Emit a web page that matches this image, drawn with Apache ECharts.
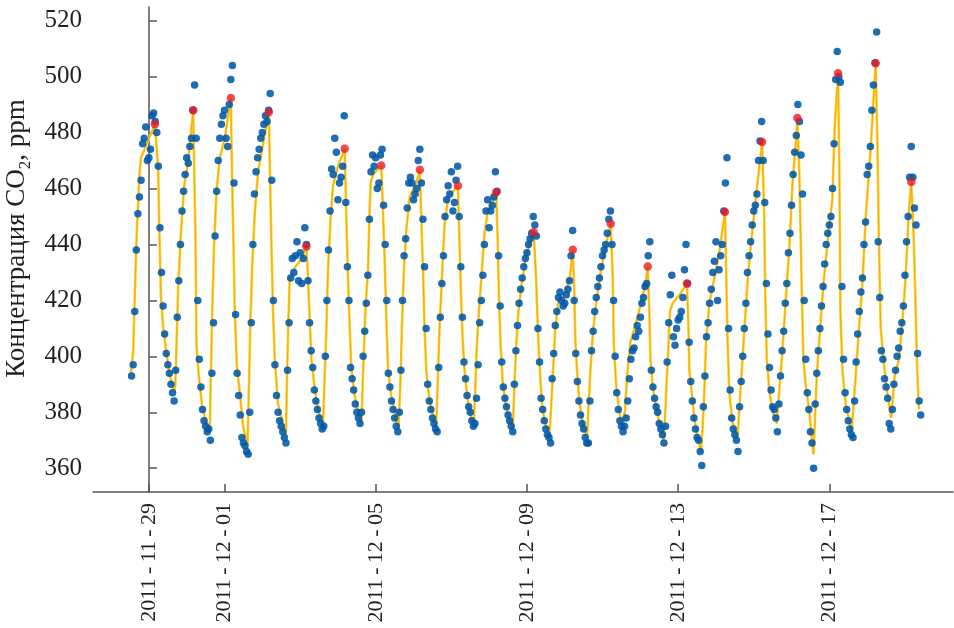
<!DOCTYPE html>
<html><head><meta charset="utf-8">
<script src="https://cdn.jsdelivr.net/npm/echarts@6/dist/echarts.min.js"></script>
<style>html,body{margin:0;padding:0;background:#fff}#c{width:954px;height:628px}</style>
</head><body><div id="c"></div>
<script>
// x values are hours since 2011-11-29 00:00
const ORIGIN = '2011-11-29T00:00:00Z';
const startHour = -11; // first hourly sample: 2011-11-28 13:00

// hourly CO2 concentration, ppm (one row per calendar day)
const co2_1128 = [393,397,416,438,451,457,463,476,478,482,470];
const co2_1129 = [471,474,486,487,484,480,468,446,430,418,408,401,397,394,390,387,384,395,414,427,440,452,459,465];
const co2_1130 = [471,469,475,478,488,497,478,420,399,389,381,377,375,373,374,370,394,412,443,459,470,478,483,486];
const co2_1201 = [488,478,475,490,499,504,462,415,394,386,379,371,369,368,366,365,380,412,440,458,466,471,474,478];
const co2_1202 = [480,483,486,484,488,494,463,420,397,386,380,377,375,373,371,369,395,412,428,435,430,436,441,427];
const co2_1203 = [437,426,435,446,440,427,412,402,396,388,384,381,378,376,374,375,400,420,438,452,467,465,478,473];
const co2_1204 = [456,462,464,468,486,455,432,420,396,392,388,383,380,378,376,380,400,409,419,429,449,466,472,468];
const co2_1205 = [471,460,462,472,474,454,440,420,394,389,384,381,378,375,373,380,395,420,436,442,453,462,464,462];
const co2_1206 = [456,458,460,470,474,462,449,432,410,390,384,381,378,376,374,373,396,414,426,436,450,456,461,458];
const co2_1207 = [466,452,455,463,468,450,432,414,398,392,386,382,380,377,375,376,385,397,412,420,429,440,452,456];
const co2_1208 = [446,452,454,457,466,459,436,418,398,389,385,382,379,377,375,373,390,402,411,419,424,428,432,435];
const co2_1209 = [437,440,442,444,450,447,443,410,398,385,381,377,374,372,371,369,392,401,411,416,421,423,420,418];
const co2_1210 = [419,422,424,427,436,445,420,401,391,384,379,376,374,371,369,369,384,402,409,416,421,425,428,432];
const co2_1211 = [436,438,440,444,449,452,440,420,400,387,381,377,375,373,375,378,384,392,399,402,403,407,411,409];
const co2_1212 = [414,419,421,425,426,436,441,395,389,385,382,380,376,374,372,369,375,398,412,422,429,407,404,410];
const co2_1213 = [413,414,416,421,431,440,426,405,391,384,378,374,371,370,366,361,382,393,407,412,419,424,430,434];
const co2_1214 = [441,420,431,436,440,452,462,471,410,388,378,374,372,370,366,382,391,400,410,419,430,436,441,447];
const co2_1215 = [452,454,458,470,477,484,470,455,426,408,396,388,382,381,378,373,383,393,402,409,419,426,437,444];
const co2_1216 = [454,465,473,479,490,484,472,458,420,399,387,381,373,369,360,383,394,402,410,418,425,433,440,444];
const co2_1217 = [447,450,460,476,499,509,500,498,425,399,387,381,377,374,372,371,384,398,408,416,423,428,440,448];
const co2_1218 = [465,468,475,488,497,505,516,441,421,402,399,392,389,385,376,374,381,390,395,400,403,409,412,418];
const co2_1219 = [429,441,450,464,475,464,453,447,401,384,379];

// smoothed curve knots [hour, ppm] (daily maxima are listed in `peaks`)
const fitKnots = [
 [-11.4,394],[-10,402],[-8,440],[-6,465],[-5,471],
 [5.9,467],[6.6,446],[7.6,422],[9.1,410],[11.2,401],[13.3,393],[16.1,387],
 [16.8,390],[17.5,404],[18.6,425],[20.3,444],[22.4,461],[25,470],
 [29.6,440],[30.2,404],[31.7,393],[33.8,382],[36.6,376],[38.7,374],
 [39.3,393],[40.2,416],[41.4,440],[42.9,459],[45,471],[48.2,478],
 [52.8,464],[53.7,440],[54.5,416],[55.8,397],[57.7,387],[59.8,375],[62.6,368],
 [63.4,387],[64.3,410],[65.5,431],[67.2,451],[69.3,466],[72.5,476],
 [76.9,464],[77.8,440],[78.8,416],[79.9,399],[82,383],[85,376],[87,372],
 [87.6,390],[88.4,410],[89.4,428],[93,432],[97,435],
 [101,428],[102.1,413],[103.2,399],[105.3,388],[107.4,381],[110.5,375],
 [111.6,393],[112.7,410],[113.7,431],[115.4,450],[116.9,461],[120,468],
 [125.3,450],[126.4,428],[127.5,410],[128.5,396],[130.6,386],[133.8,378],[134.9,376],
 [135.9,393],[137.4,416],[139.1,431],[140.1,452],[140.8,462],[142.3,465],
 [148.6,452],[149.7,434],[150.7,414],[151.8,395],[153.9,386],[157.1,377],[158.5,374],
 [159.8,393],[160.6,410],[161.9,431],[163.4,445],[165.5,457],[169.7,462],
 [172.9,450],[174,431],[175,410],[176.1,395],[178.2,384],[181.4,377],[182.4,375],
 [183.5,393],[184.5,410],[186,428],[187.7,447],[189.8,456],[193,459],
 [197.2,440],[198.3,419],[199.3,405],[200.4,395],[202.5,384],[204.6,378],[206.3,376],
 [207.1,387],[208.2,404],[209.9,419],[211.4,431],[213.1,444],[215.2,452],[218.3,456],
 [221.5,440],[222.2,422],[223.2,405],[224.7,390],[226.8,382],[229.6,376],[231,374],
 [232.1,390],[233.1,403],[234.6,416],[236.7,426],[239.5,436],[242.2,441],
 [245.8,428],[246.9,410],[248,397],[249.4,384],[251.1,377],[254.3,372],
 [255.3,381],[256.4,393],[257.9,409],[260,420],[263.8,422],[267,427],
 [270.1,422],[270.8,405],[271.8,395],[273.3,384],[275.4,376],[278.2,371],
 [279,381],[280.3,395],[281.8,408],[283.9,419],[287,431],[290.2,440],
 [294.5,428],[295.1,405],[296.6,390],[298.7,380],[300.8,374],
 [302.3,381],[303.6,393],[305.7,405],[309.3,412],[312.9,420],[315.6,427],
 [317.7,416],[318.4,399],[319.9,389],[322,382],[324.1,376],[326.8,370],
 [327.9,381],[329.4,399],[330.8,416],[332.5,419],[336.8,422],
 [342.5,411],[343.1,395],[344.6,387],[346.3,378],[348.4,371],[350.5,366],
 [351.6,375],[352.6,387],[353.7,405],[355.8,419],[359,428],[362.1,437],
 [366.6,428],[367.4,405],[368.5,387],[370.6,376],[373.7,371],
 [374.8,381],[376.3,394],[378,409],[380.5,430],[383.3,446],[386.4,462],
 [390.6,452],[391.3,422],[392.3,399],[394,387],[396.3,380],[398.6,376],
 [400.1,387],[402.2,402],[404.3,420],[406.5,438],[408.6,462],[410.7,476],
 [413,464],[414.3,428],[415.5,399],[417,390],[419.1,381],[421.9,365],
 [422.7,375],[424,393],[426.1,410],[428.6,428],[431.8,446],[433.9,456],[435.4,482],
 [438.4,464],[439,416],[440.3,395],[442.4,383],[446,373],
 [447.2,381],[448.7,393],[450.8,410],[453,426],[455.1,450],[458.2,474],
 [462.5,476],[463.5,440],[464.6,410],[466.7,397],[468.8,387],[471.3,378],
 [473.5,393],[476.2,399],[478.3,412],[480.4,428],[482.5,452],
 [485.7,440],[486.8,416],[487.8,395],[488.9,381]
];

// daily maxima of the smoothed curve [hour, ppm]
const peaks = [
 [3.8,483],[28.1,488],[52,492.4],[76.1,487.3],[100,439.3],[124.3,474.2],[147.5,468.2],
 [172,466.7],[196.2,461],[220.5,458.7],[244.3,444.4],[269.1,438.1],[293.2,447.4],
 [316.7,432.1],[341.6,426],[365.7,451.6],[389.3,476.6],[411.7,485.2],[437.5,501.2],
 [461.4,504.8],[484,462.3]
];

const tickDates = ['2011-11-29','2011-12-01','2011-12-05','2011-12-09','2011-12-13','2011-12-17'];
const yTicks = [360,380,400,420,440,460,480,500,520];

const hourly = [].concat(co2_1128,co2_1129,co2_1130,co2_1201,co2_1202,co2_1203,co2_1204,
  co2_1205,co2_1206,co2_1207,co2_1208,co2_1209,co2_1210,co2_1211,co2_1212,co2_1213,
  co2_1214,co2_1215,co2_1216,co2_1217,co2_1218,co2_1219);
const blueData = hourly.map((v, i) => [startHour + i, v]);
const origin = Date.parse(ORIGIN);
const tickHours = tickDates.map(d => (Date.parse(d + 'T00:00:00Z') - origin) / 3600000);
const lineData = fitKnots.concat(peaks).sort((a, b) => a[0] - b[0]);

const FONT = '"Liberation Serif","Times New Roman",serif';
const AX = '#555555';
const TXT = '#231f20';

const chart = echarts.init(document.getElementById('c'), null, {renderer: 'canvas'});
chart.setOption({
  animation: false,
  backgroundColor: '#ffffff',
  grid: {left: 93, right: 1, top: 7, bottom: 136, containLabel: false, outerBoundsMode: 'none'},
  xAxis: {
    type: 'value', min: -35.5, max: 510.5,
    axisLine: {show: true, lineStyle: {color: AX, width: 1.5}},
    axisTick: {show: true, inside: true, length: 8, lineStyle: {color: AX, width: 1.5}, customValues: tickHours},
    axisLabel: {
      customValues: tickHours, rotate: 90, margin: 11, fontSize: 22, fontFamily: FONT, color: TXT,
      formatter: v => {
        const i = tickHours.findIndex(h => Math.abs(h - v) < 1e-6);
        return i >= 0 ? tickDates[i].replace(/-/g, '\u2009-\u2009') : '';
      }
    },
    splitLine: {show: false}
  },
  yAxis: {
    type: 'value', min: 351.5, max: 524.9,
    axisLine: {show: true, lineStyle: {color: AX, width: 1.5}},
    axisTick: {show: true, inside: true, length: 8, lineStyle: {color: AX, width: 1.5}, customValues: yTicks},
    axisLabel: {customValues: yTicks, margin: 11, fontSize: 25, fontFamily: FONT, color: TXT},
    splitLine: {show: false},
    name: 'Концентрация CO{sub|2}, ppm',
    nameLocation: 'middle', nameRotate: 90, nameGap: 50,
    nameTextStyle: {
      fontSize: 27, fontFamily: FONT, color: TXT, lineHeight: 34, padding: [0, 0, 0, 22],
      rich: {sub: {fontSize: 17, fontFamily: FONT, color: TXT, lineHeight: 17, verticalAlign: 'bottom'}}
    }
  },
  series: [
    {type: 'line', data: lineData, symbol: 'none', smooth: false,
     lineStyle: {color: '#ffd21a', width: 2.6}, z: 2, silent: true},
    {type: 'line', data: lineData, symbol: 'none', smooth: false,
     lineStyle: {color: '#f3a21c', width: 0.9}, z: 2, silent: true},
    {type: 'scatter', data: blueData, symbolSize: 7.5,
     itemStyle: {color: '#0059a8', opacity: 0.88}, z: 3, silent: true},
    {type: 'scatter', data: peaks, symbolSize: 8.5,
     itemStyle: {color: '#ec1c24'}, z: 4, silent: true}
  ]
});
</script>
</body></html>
